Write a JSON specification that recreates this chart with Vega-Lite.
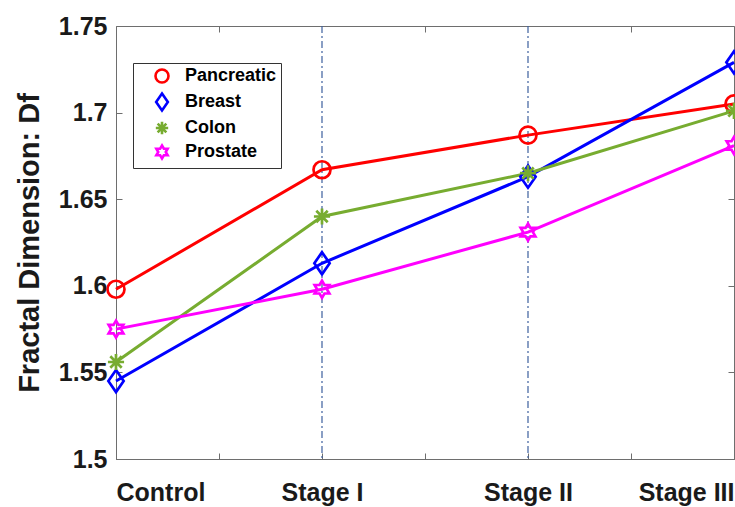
{
  "$schema": "https://vega.github.io/schema/vega-lite/v6.json",
  "width": 618,
  "height": 433,
  "autosize": {"type": "none"},
  "padding": {"left": 116, "top": 26, "right": 1, "bottom": 48},
  "background": "white",
  "config": {
    "view": {"stroke": "#6e6e6e", "strokeWidth": 1},
    "font": "Liberation Sans",
    "axis": {
      "domainColor": "#6e6e6e",
      "tickColor": "#6e6e6e",
      "labelFont": "Liberation Sans",
      "titleFont": "Liberation Sans",
      "labelColor": "#1a1a1a",
      "titleColor": "#1a1a1a",
      "grid": false
    },
    "legend": {
      "orient": "none",
      "legendX": 17,
      "legendY": 37,
      "strokeColor": "#333333",
      "fillColor": "white",
      "padding": 4,
      "labelFont": "Liberation Sans",
      "labelFontSize": 18,
      "labelFontWeight": "bold",
      "labelColor": "#000000",
      "symbolSize": 169,
      "symbolStrokeWidth": 2.6,
      "symbolOffset": 16,
      "labelOffset": 14,
      "rowPadding": 0
    }
  },
  "datasets": {
    "vals": [
      {"stage": 0, "series": "Pancreatic", "df": 1.598},
      {"stage": 1, "series": "Pancreatic", "df": 1.667},
      {"stage": 2, "series": "Pancreatic", "df": 1.687},
      {"stage": 3, "series": "Pancreatic", "df": 1.705},
      {"stage": 0, "series": "Breast", "df": 1.545},
      {"stage": 1, "series": "Breast", "df": 1.613},
      {"stage": 2, "series": "Breast", "df": 1.663},
      {"stage": 3, "series": "Breast", "df": 1.729},
      {"stage": 0, "series": "Colon", "df": 1.556},
      {"stage": 1, "series": "Colon", "df": 1.640},
      {"stage": 2, "series": "Colon", "df": 1.665},
      {"stage": 3, "series": "Colon", "df": 1.701},
      {"stage": 0, "series": "Prostate", "df": 1.575},
      {"stage": 1, "series": "Prostate", "df": 1.598},
      {"stage": 2, "series": "Prostate", "df": 1.631},
      {"stage": 3, "series": "Prostate", "df": 1.681}
    ],
    "rules": [{"stage": 1}, {"stage": 2}]
  },
  "resolve": {"axis": {"x": "independent", "y": "independent"}},
  "layer": [
    {
      "data": {"name": "rules"},
      "mark": {"type": "rule", "color": "#3d5f9e", "strokeWidth": 1.2, "strokeDash": [7, 3, 2, 3]},
      "encoding": {
        "x": {
          "field": "stage", "type": "quantitative",
          "scale": {"domain": [0, 3], "nice": false, "zero": false},
          "axis": {"orient": "top", "values": [0.5, 1.5, 2.5], "labels": false, "title": null, "domain": false, "tickSize": -6}
        }
      }
    },
    {
      "data": {"name": "vals"},
      "mark": {"type": "line", "strokeWidth": 3},
      "encoding": {
        "x": {
          "field": "stage", "type": "quantitative",
          "scale": {"domain": [0, 3], "nice": false, "zero": false},
          "axis": {
            "orient": "bottom",
            "values": [0, 0.5, 1, 1.5, 2, 2.5, 3],
            "title": null,
            "tickSize": -6,
            "labelPadding": 27,
            "labelFontSize": 25,
            "labelFontWeight": "bold",
            "labelBaseline": "top",
            "labelOverlap": false,
            "labelExpr": "datum.value == 0 ? 'Control' : datum.value == 1 ? 'Stage I' : datum.value == 2 ? 'Stage II' : datum.value == 3 ? 'Stage III' : ''",
            "encode": {
              "ticks": {"update": {"opacity": {"signal": "datum.value % 1 == 0 ? 0 : 1"}}},
              "labels": {"update": {
                "align": {"signal": "datum.value == 0 ? 'left' : datum.value == 3 ? 'right' : 'center'"},
                "dx": {"signal": "datum.value == 2 ? 8 : datum.value == 1 ? 3 : 0"}
              }}
            }
          }
        },
        "y": {
          "field": "df", "type": "quantitative",
          "scale": {"domain": [1.5, 1.75], "nice": false, "zero": false},
          "axis": {
            "orient": "left",
            "values": [1.5, 1.55, 1.6, 1.65, 1.7, 1.75],
            "tickSize": -6,
            "labelPadding": 15,
            "labelFontSize": 25,
            "labelFontWeight": "bold",
            "labelOverlap": false,
            "labelExpr": "format(datum.value, '.2~f')",
            "title": "Fractal Dimension: Df",
            "titleFontSize": 29,
            "titleFontWeight": "bold",
            "titlePadding": 14
          }
        },
        "color": {
          "field": "series", "type": "nominal",
          "scale": {"domain": ["Pancreatic", "Breast", "Colon", "Prostate"], "range": ["#ff0000", "#0000ff", "#77ac30", "#ff00ff"]},
          "legend": {
            "title": null,
            "encode": {"symbols": {"update": {
              "shape": {"signal": "'M-2.8,0H2.8' + scale('shape', datum.value)"},
              "stroke": {"signal": "scale('color', datum.value)"},
              "fill": {"value": "transparent"},
              "strokeWidth": {"value": 2.6}
            }}}
          }
        },
        "detail": {"field": "series"}
      }
    },
    {
      "data": {"name": "vals"},
      "mark": {"type": "point", "filled": false, "strokeWidth": 2.7, "size": 289, "opacity": 1},
      "encoding": {
        "x": {
          "field": "stage", "type": "quantitative",
          "scale": {"domain": [0, 3], "nice": false, "zero": false},
          "axis": null
        },
        "y": {
          "field": "df", "type": "quantitative",
          "scale": {"domain": [1.5, 1.75], "nice": false, "zero": false},
          "axis": {"orient": "right", "values": [1.5, 1.55, 1.6, 1.65, 1.7, 1.75], "labels": false, "title": null, "domain": false, "tickSize": -6}
        },
        "color": {
          "field": "series", "type": "nominal",
          "scale": {"domain": ["Pancreatic", "Breast", "Colon", "Prostate"], "range": ["#ff0000", "#0000ff", "#77ac30", "#ff00ff"]},
          "legend": {"title": null}
        },
        "shape": {
          "field": "series", "type": "nominal",
          "scale": {
            "domain": ["Pancreatic", "Breast", "Colon", "Prostate"],
            "range": [
              "M-1,0A1,1 0 1,0 1,0A1,1 0 1,0 -1,0Z",
              "M0,-1.3L0.9,0L0,1.3L-0.9,0Z",
              "M-0.95,0H0.95M0,-0.95V0.95M-0.67,-0.67L0.67,0.67M-0.67,0.67L0.67,-0.67",
              "M0,-1L0.289,-0.5L0.866,-0.5L0.577,0L0.866,0.5L0.289,0.5L0,1L-0.289,0.5L-0.866,0.5L-0.577,0L-0.866,-0.5L-0.289,-0.5Z"
            ]
          },
          "legend": {"title": null}
        }
      }
    }
  ]
}
